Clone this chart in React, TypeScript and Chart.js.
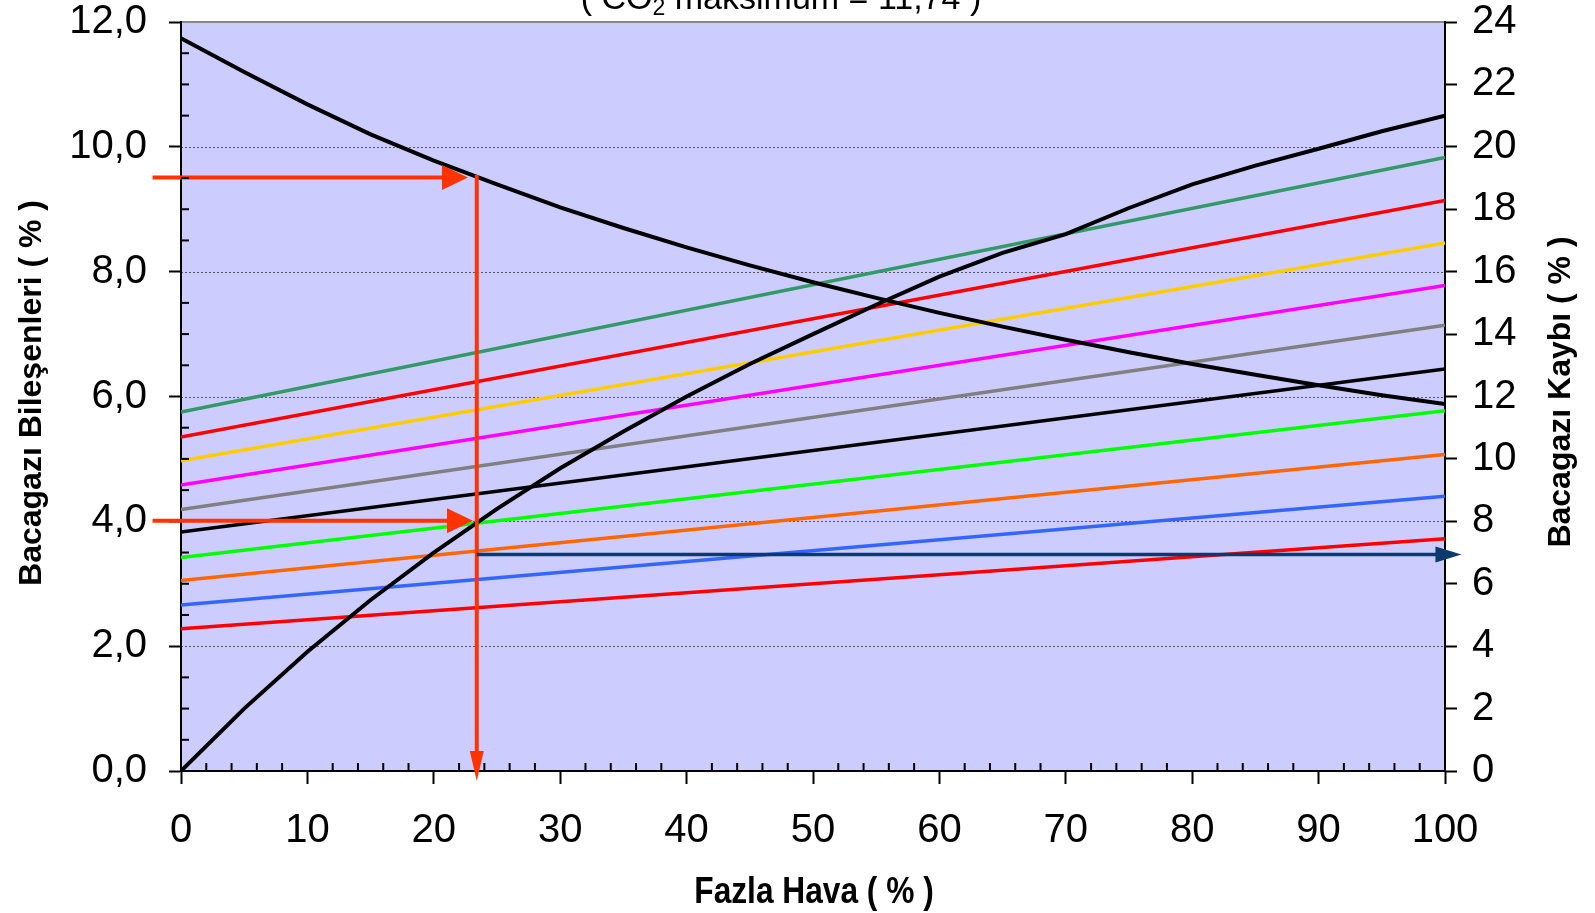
import React, { useEffect, useRef } from "react";
import { Chart, registerables } from "chart.js";

Chart.register(...registerables);

// ---------- DATA ----------
const excessAir = [0, 5, 10, 15, 20, 25, 30, 35, 40, 45, 50, 55, 60, 65, 70, 75, 80, 85, 90, 95, 100];
const co2Values = [11.74, 11.2, 10.68, 10.2, 9.78, 9.4, 9.03, 8.7, 8.39, 8.1, 7.83, 7.58, 7.34, 7.12, 6.91, 6.71, 6.52, 6.35, 6.18, 6.02, 5.88];
const o2Values = [0, 1.0, 1.91, 2.74, 3.5, 4.2, 4.85, 5.44, 6.0, 6.52, 7.0, 7.47, 7.92, 8.3, 8.6, 9.02, 9.4, 9.7, 9.97, 10.25, 10.5];

const lossX = [0, 100];
const lossStart = [11.5, 10.7, 9.94, 9.16, 8.38, 7.66, 6.84, 6.1, 5.32, 4.56];
const lossEnd = [19.66, 18.28, 16.92, 15.56, 14.28, 12.88, 11.54, 10.14, 8.8, 7.44];
const lossColors = ["#339966", "#FF0000", "#FFCC00", "#FF00FF", "#808080", "#000000", "#00FF00", "#FF6600", "#3366FF", "#FF0000"];

const gridValues = [2, 4, 6, 8, 10];
const leftMinorStep = 0.5;
const xMinorStep = 2;

// reading arrows (data units)
const readX = 23.4;
const co2Arrow = { x1: -2.25, x2: 22.7, y: 9.51 };
const o2Arrow = { x1: -2.25, x2: 23.1, y: 4.01 };
const downArrow = { x: readX, y1: 9.55, y2: -0.16 };
const lossArrow = { x1: readX, x2: 101.3, y: 6.94 };

const titleText = ["( CO", "2", " maksimum = 11,74 )"];
const xTitle = "Fazla Hava ( % )";
const yTitle = "Bacagazı Bileşenleri ( % )";
const y2Title = "Bacagazı Kaybı ( % )";

const FONT = "'Liberation Sans', Arial, Helvetica, sans-serif";

function drawHead(ctx: CanvasRenderingContext2D, tipX: number, tipY: number, dx: number, dy: number, len: number, half: number, color: string) {
  const px = -dy, py = dx;
  const bx = tipX - dx * len, by = tipY - dy * len;
  ctx.fillStyle = color;
  ctx.beginPath();
  ctx.moveTo(tipX, tipY);
  ctx.lineTo(bx + px * half, by + py * half);
  ctx.lineTo(bx - px * half, by - py * half);
  ctx.closePath();
  ctx.fill();
}

const decorPlugin = {
  id: "decor",
  beforeDraw(chart: any) {
    const { ctx, chartArea: a, scales } = chart;
    ctx.save();
    ctx.fillStyle = "#CCCCFF";
    ctx.fillRect(a.left, a.top, a.right - a.left, a.bottom - a.top);
    ctx.strokeStyle = "#555555";
    ctx.lineWidth = 1;
    ctx.setLineDash([2, 2]);
    for (const v of gridValues) {
      const y = Math.round(scales.y.getPixelForValue(v)) + 0.5;
      ctx.beginPath();
      ctx.moveTo(a.left, y);
      ctx.lineTo(a.right, y);
      ctx.stroke();
    }
    ctx.setLineDash([]);
    ctx.strokeStyle = "#888888";
    ctx.lineWidth = 2;
    ctx.beginPath();
    ctx.moveTo(a.left, a.top);
    ctx.lineTo(a.right, a.top);
    ctx.stroke();
    ctx.restore();
  },
  afterDatasetsDraw(chart: any) {
    const { ctx, scales } = chart;
    const xs = scales.x, ys = scales.y, y2s = scales.y2;
    const red = "#FF3300";
    const navy = "#0B3A6E";
    ctx.save();
    ctx.lineCap = "butt";
    for (const ar of [co2Arrow, o2Arrow]) {
      const x1 = xs.getPixelForValue(ar.x1), x2 = xs.getPixelForValue(ar.x2), y = ys.getPixelForValue(ar.y);
      ctx.strokeStyle = red;
      ctx.lineWidth = 4;
      ctx.beginPath();
      ctx.moveTo(x1, y);
      ctx.lineTo(x2 - 20, y);
      ctx.stroke();
      drawHead(ctx, x2, y, 1, 0, 26, 12.5, red);
    }
    {
      const x = xs.getPixelForValue(downArrow.x);
      const y1 = ys.getPixelForValue(downArrow.y1), y2 = ys.getPixelForValue(downArrow.y2);
      ctx.strokeStyle = red;
      ctx.lineWidth = 4;
      ctx.beginPath();
      ctx.moveTo(x, y1);
      ctx.lineTo(x, y2 - 20);
      ctx.stroke();
      drawHead(ctx, x, y2, 0, 1, 30, 7, red);
    }
    {
      const x1 = xs.getPixelForValue(lossArrow.x1), x2 = xs.getPixelForValue(lossArrow.x2), y = y2s.getPixelForValue(lossArrow.y);
      ctx.strokeStyle = navy;
      ctx.lineWidth = 3.5;
      ctx.beginPath();
      ctx.moveTo(x1, y);
      ctx.lineTo(x2 - 20, y);
      ctx.stroke();
      drawHead(ctx, x2, y, 1, 0, 26, 8, navy);
    }
    ctx.restore();
  },
  afterDraw(chart: any) {
    const { ctx, chartArea: a, scales } = chart;
    ctx.save();
    ctx.strokeStyle = "#000000";
    ctx.lineWidth = 2;
    for (let v = leftMinorStep; v < 12; v += leftMinorStep) {
      if (Math.abs(v / 2 - Math.round(v / 2)) < 1e-6) continue;
      const y = scales.y.getPixelForValue(v);
      ctx.beginPath();
      ctx.moveTo(a.left, y);
      ctx.lineTo(a.left + 8, y);
      ctx.stroke();
    }
    for (let v = xMinorStep; v < 100; v += xMinorStep) {
      if (v % 10 === 0) continue;
      const x = scales.x.getPixelForValue(v);
      ctx.beginPath();
      ctx.moveTo(x, a.bottom);
      ctx.lineTo(x, a.bottom - 8);
      ctx.stroke();
    }
    ctx.fillStyle = "#000000";
    ctx.font = `34px ${FONT}`;
    ctx.textBaseline = "alphabetic";
    ctx.textAlign = "left";
    const w1 = ctx.measureText(titleText[0]).width;
    const w3 = ctx.measureText(titleText[2]).width;
    ctx.font = `23px ${FONT}`;
    const w2 = ctx.measureText(titleText[1]).width;
    const total = w1 + w2 + w3;
    const tx = 781 - total / 2;
    const baseY = 9;
    ctx.font = `34px ${FONT}`;
    ctx.fillText(titleText[0], tx, baseY);
    ctx.font = `23px ${FONT}`;
    ctx.fillText(titleText[1], tx + w1, baseY + 6);
    ctx.font = `34px ${FONT}`;
    ctx.fillText(titleText[2], tx + w1 + w2, baseY);
    ctx.save();
    ctx.font = `bold 36px ${FONT}`;
    ctx.textAlign = "center";
    ctx.textBaseline = "middle";
    ctx.translate(814, 893);
    ctx.scale(0.88, 1);
    ctx.fillText(xTitle, 0, 0);
    ctx.restore();
    ctx.save();
    ctx.font = `bold 32px ${FONT}`;
    ctx.textAlign = "center";
    ctx.textBaseline = "middle";
    ctx.translate(32, 393);
    ctx.rotate(-Math.PI / 2);
    ctx.fillText(yTitle, 0, 0);
    ctx.restore();
    ctx.save();
    ctx.font = `bold 32px ${FONT}`;
    ctx.textAlign = "center";
    ctx.textBaseline = "middle";
    ctx.translate(1561, 392);
    ctx.rotate(-Math.PI / 2);
    ctx.fillText(y2Title, 0, 0);
    ctx.restore();
    ctx.restore();
  },
};

function fixV(width: number) {
  return (s: any) => {
    s.width = width;
    s.paddingTop = 0;
    s.paddingBottom = 0;
  };
}

export default function App() {
  const ref = useRef<HTMLCanvasElement | null>(null);

  useEffect(() => {
    if (!ref.current) return;
    const datasets: any[] = [];
    datasets.push({
      label: "CO2",
      data: excessAir.map((x, i) => ({ x, y: co2Values[i] })),
      borderColor: "#000000",
      borderWidth: 4,
      yAxisID: "y",
    });
    datasets.push({
      label: "O2",
      data: excessAir.map((x, i) => ({ x, y: o2Values[i] })),
      borderColor: "#000000",
      borderWidth: 4,
      yAxisID: "y",
    });
    lossStart.forEach((s, i) => {
      datasets.push({
        label: `loss${i}`,
        data: [
          { x: lossX[0], y: s },
          { x: lossX[1], y: lossEnd[i] },
        ],
        borderColor: lossColors[i],
        borderWidth: 3.5,
        yAxisID: "y2",
      });
    });

    const tickFont = { family: FONT, size: 40 };
    const chart = new Chart(ref.current, {
      type: "line",
      data: { datasets },
      plugins: [decorPlugin as any],
      options: {
        responsive: false,
        animation: false,
        devicePixelRatio: 1,
        layout: { padding: { top: 22, left: 0, right: 0, bottom: 0 } },
        elements: { point: { radius: 0 }, line: { tension: 0 } },
        plugins: { legend: { display: false }, tooltip: { enabled: false }, title: { display: false } },
        scales: {
          x: {
            type: "linear",
            position: "bottom",
            min: 0,
            max: 100,
            ticks: { stepSize: 10, font: tickFont, color: "#000", padding: 23, maxRotation: 0 },
            grid: { display: true, drawOnChartArea: false, drawTicks: true, tickLength: 13, tickColor: "#000", tickWidth: 2, color: "#000" },
            border: { display: true, color: "#000", width: 2 },
            afterFit: (s: any) => {
              s.height = 142;
              s.paddingLeft = 0;
              s.paddingRight = 0;
            },
          },
          y: {
            type: "linear",
            position: "left",
            min: 0,
            max: 12,
            ticks: {
              stepSize: 2,
              font: tickFont,
              color: "#000",
              padding: 22,
              callback: (v: any) => Number(v).toFixed(1).replace(".", ","),
            },
            grid: { display: true, drawOnChartArea: false, drawTicks: true, tickLength: 12, tickColor: "#000", tickWidth: 2, color: "#000" },
            border: { display: true, color: "#000", width: 2 },
            afterFit: fixV(181),
          },
          y2: {
            type: "linear",
            position: "right",
            min: 0,
            max: 24,
            ticks: { stepSize: 2, font: tickFont, color: "#000", padding: 15 },
            grid: { display: true, drawOnChartArea: false, drawTicks: true, tickLength: 12, tickColor: "#000", tickWidth: 2, color: "#000" },
            border: { display: true, color: "#000", width: 2 },
            afterFit: fixV(150),
          },
        },
      },
    });
    return () => chart.destroy();
  }, []);

  return (
    <div style={{ position: "fixed", left: 0, top: 0, width: 1595, height: 913, background: "#fff" }}>
      <canvas ref={ref} width={1595} height={913} style={{ width: 1595, height: 913, display: "block" }} />
    </div>
  );
}
